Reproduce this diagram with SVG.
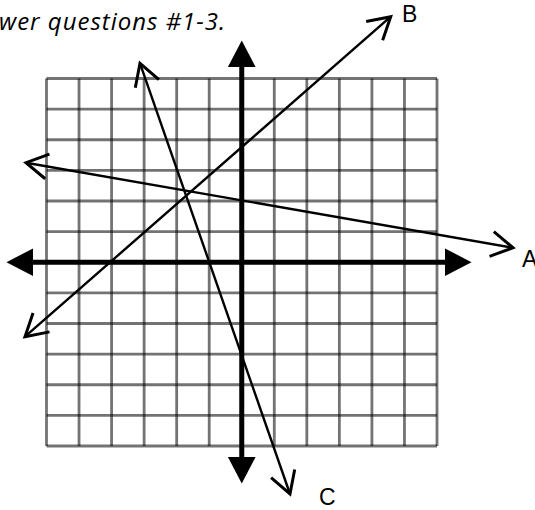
<svg xmlns="http://www.w3.org/2000/svg" width="535" height="510" viewBox="0 0 535 510">
  <style>
    .grid line { stroke: #000; stroke-opacity: 0.55; stroke-width: 2.8; }
    .axis { stroke: #000; stroke-width: 5; fill: none; }
    .ray { stroke: #000; stroke-width: 2.4; fill: none; }
    .lbl { font-family: "Liberation Sans", Arial, sans-serif; font-size: 23px; fill: #000; }
    .title { font-family: "Open Sans", "Liberation Sans", sans-serif; font-style: italic; font-size: 24px; fill: #000; }
  </style>
  <defs>
    <marker id="solid" markerUnits="userSpaceOnUse" markerWidth="30" markerHeight="30" viewBox="0 -13 24 26" refX="0" refY="0" orient="auto-start-reverse">
      <path d="M0,-12 L23,0 L0,12 Z" fill="#000"/>
    </marker>
    <marker id="open" markerUnits="userSpaceOnUse" markerWidth="30" markerHeight="30" viewBox="-20 -12 22 24" refX="0" refY="0" orient="auto-start-reverse">
      <path d="M-17.3,-10 L0,0 L-17.3,10" fill="none" stroke="#000" stroke-width="2.4"/>
    </marker>
  </defs>
  <rect width="535" height="510" fill="#fff"/>

  <text class="title" x="-1" y="30" textLength="226" lengthAdjust="spacing">wer questions #1-3.</text>

  <g id="grid" class="grid">
    <line x1="46.5" y1="78.5" x2="46.5" y2="446"/>
    <line x1="79.04" y1="78.5" x2="79.04" y2="446"/>
    <line x1="111.58" y1="78.5" x2="111.58" y2="446"/>
    <line x1="144.12" y1="78.5" x2="144.12" y2="446"/>
    <line x1="176.67" y1="78.5" x2="176.67" y2="446"/>
    <line x1="209.21" y1="78.5" x2="209.21" y2="446"/>
    <line x1="274.29" y1="78.5" x2="274.29" y2="446"/>
    <line x1="306.83" y1="78.5" x2="306.83" y2="446"/>
    <line x1="339.37" y1="78.5" x2="339.37" y2="446"/>
    <line x1="371.92" y1="78.5" x2="371.92" y2="446"/>
    <line x1="404.46" y1="78.5" x2="404.46" y2="446"/>
    <line x1="437" y1="78.5" x2="437" y2="446"/>
    <line x1="46.5" y1="78.5" x2="437" y2="78.5"/>
    <line x1="46.5" y1="109.13" x2="437" y2="109.13"/>
    <line x1="46.5" y1="139.75" x2="437" y2="139.75"/>
    <line x1="46.5" y1="170.38" x2="437" y2="170.38"/>
    <line x1="46.5" y1="201" x2="437" y2="201"/>
    <line x1="46.5" y1="231.63" x2="437" y2="231.63"/>
    <line x1="46.5" y1="292.88" x2="437" y2="292.88"/>
    <line x1="46.5" y1="323.5" x2="437" y2="323.5"/>
    <line x1="46.5" y1="354.13" x2="437" y2="354.13"/>
    <line x1="46.5" y1="384.75" x2="437" y2="384.75"/>
    <line x1="46.5" y1="415.38" x2="437" y2="415.38"/>
    <line x1="46.5" y1="446" x2="437" y2="446"/>
  </g>

  <g id="axes">
    <line class="axis" x1="33" y1="262.25" x2="445" y2="262.25" marker-start="url(#solid)" marker-end="url(#solid)"/>
    <line class="axis" x1="241.75" y1="67" x2="241.75" y2="457" marker-start="url(#solid)" marker-end="url(#solid)"/>
  </g>

  <g id="connectors">
    <line id="line-A" class="ray" x1="26" y1="162.7" x2="513" y2="247.7" marker-start="url(#open)" marker-end="url(#open)"/>
    <line id="line-B" class="ray" x1="25" y1="336.7" x2="390.7" y2="16.7" marker-start="url(#open)" marker-end="url(#open)"/>
    <line id="line-C" class="ray" x1="140" y1="63.3" x2="290" y2="494" marker-start="url(#open)" marker-end="url(#open)"/>
  </g>

  <g id="label-A"><text class="lbl" x="522" y="266.5">A</text></g>
  <g id="label-B"><text class="lbl" x="402" y="21.5">B</text></g>
  <g id="label-C"><text class="lbl" x="319" y="505">C</text></g>
</svg>
